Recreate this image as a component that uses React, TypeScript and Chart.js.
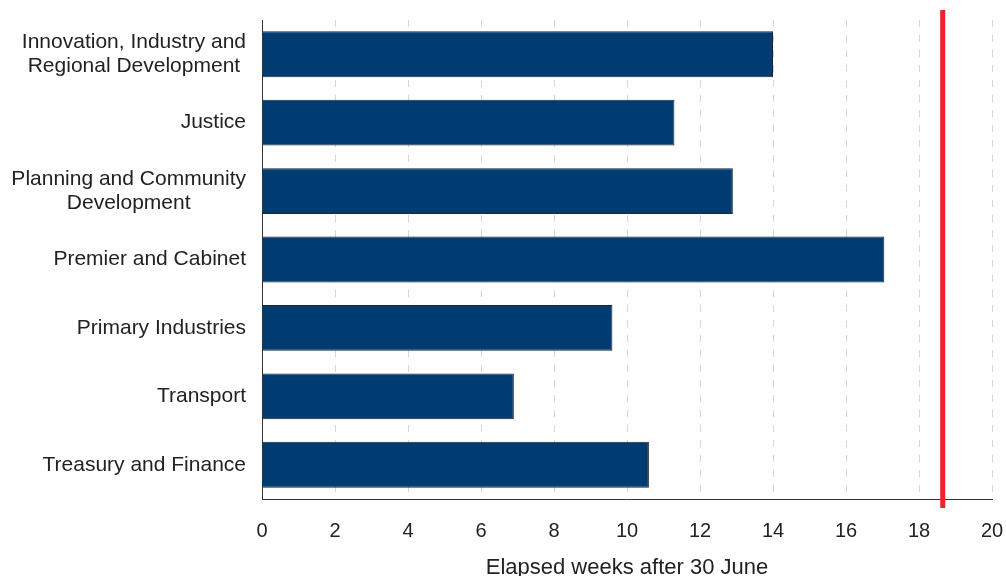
import React, { useEffect, useRef } from "react";
import { Chart, registerables } from "chart.js";

Chart.register(...registerables);

const categories: (string | string[])[] = [
  ["Innovation, Industry and", "Regional Development"],
  "Justice",
  ["Planning and Community", "Development"],
  "Premier and Cabinet",
  "Primary Industries",
  "Transport",
  "Treasury and Finance",
];
const elapsedWeeks = [14.0, 11.3, 12.9, 17.05, 9.6, 6.9, 10.6];
const deadlineWeeks = 18.65;
const xTicks = [0, 2, 4, 6, 8, 10, 12, 14, 16, 18, 20];
const xTitle = "Elapsed weeks after 30 June";

const FONT = "'Liberation Sans', Arial, sans-serif";
const TEXT = "#222222";

const deadlinePlugin = {
  id: "deadline",
  afterDatasetsDraw(chart: any) {
    const x = chart.scales.x.getPixelForValue(deadlineWeeks);
    const { top, bottom } = chart.chartArea;
    const ctx = chart.ctx;
    ctx.save();
    ctx.strokeStyle = "#ee2227";
    ctx.lineWidth = 5;
    ctx.beginPath();
    ctx.moveTo(x, top - 10);
    ctx.lineTo(x, bottom + 9);
    ctx.stroke();
    ctx.restore();
  },
};

const yLabelPlugin = {
  id: "yLabels",
  afterDraw(chart: any) {
    const ys = chart.scales.y;
    const ctx = chart.ctx;
    const lh = 24;
    const right = ys.right - 16;
    ctx.save();
    ctx.font = `21px ${FONT}`;
    ctx.fillStyle = TEXT;
    ctx.textAlign = "center";
    ctx.textBaseline = "middle";
    categories.forEach((lab, i) => {
      const lines = Array.isArray(lab) ? lab : [lab];
      const maxW = Math.max(...lines.map((l) => ctx.measureText(l).width));
      const cx = right - maxW / 2;
      const yc = ys.getPixelForTick(i);
      const y0 = yc - ((lines.length - 1) * lh) / 2;
      lines.forEach((l, k) => ctx.fillText(l, cx, y0 + k * lh));
    });
    ctx.restore();
  },
};

export default function App() {
  const ref = useRef<HTMLCanvasElement>(null);
  useEffect(() => {
    if (!ref.current) return;
    const chart = new Chart(ref.current, {
      type: "bar",
      data: {
        labels: categories,
        datasets: [
          {
            data: elapsedWeeks,
            backgroundColor: "#003c71",
            borderColor: "#1c2633",
            borderWidth: 1,
            categoryPercentage: 1,
            barPercentage: 0.67,
          },
        ],
      },
      options: {
        indexAxis: "y",
        animation: false,
        responsive: false,
        maintainAspectRatio: false,
        layout: { padding: { top: 20, right: 14, left: 0, bottom: 0 } },
        plugins: { legend: { display: false }, tooltip: { enabled: false } },
        scales: {
          x: {
            min: 0,
            max: 20,
            afterBuildTicks(scale: any) {
              scale.ticks = xTicks.map((v) => ({ value: v }));
            },
            grid: {
              color: (c: any) => (c.tick && c.tick.value === 0 ? "rgba(0,0,0,0)" : "#d6d6d6"),
              lineWidth: 1,
              drawTicks: false,
            },
            border: { display: true, color: "#333333", width: 1, dash: [7, 8] },
            ticks: {
              color: TEXT,
              font: { family: FONT, size: 20 },
              padding: 20,
              maxRotation: 0,
            },
            title: {
              display: true,
              text: xTitle,
              color: TEXT,
              font: { family: FONT, size: 22 },
              padding: { top: 0, bottom: -5 },
            },
            afterFit(scale: any) {
              scale.height = 77;
              scale.paddingLeft = 0;
              scale.paddingRight = 0;
            },
          },
          y: {
            grid: { display: false, drawTicks: false },
            border: { display: true, color: "#333333", width: 1 },
            ticks: { display: false },
            afterFit(scale: any) {
              scale.width = 262;
              scale.paddingTop = 0;
              scale.paddingBottom = 0;
            },
          },
        },
      },
      plugins: [deadlinePlugin, yLabelPlugin],
    } as any);
    return () => chart.destroy();
  }, []);
  return (
    <div style={{ position: "absolute", left: 0, top: 0, width: 1006, height: 576 }}>
      <canvas ref={ref} width={1006} height={576} style={{ width: 1006, height: 576 }} />
    </div>
  );
}
